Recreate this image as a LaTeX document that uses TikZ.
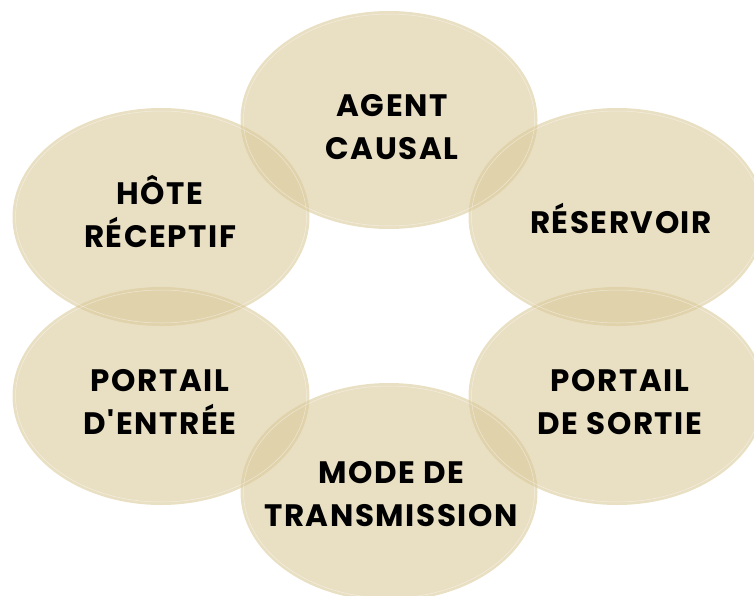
\documentclass[tikz,border=0pt]{standalone}
\usepackage{fontspec}
\newfontfamily\petalfont{Poppins}[LetterSpace=5]
\usetikzlibrary{shapes.geometric}

\definecolor{petalfill}{RGB}{218,202,155}

\tikzset{
    petal/.style={ellipse, fill=petalfill, fill opacity=0.6,
        minimum width=297pt, minimum height=218pt, inner sep=0pt},
    rimline/.style={draw=white, draw opacity=0.45, line width=0.5pt},
    word/.style={font=\petalfont\bfseries\fontsize{31}{43}\selectfont, align=center,
        text=black, anchor=base, inner sep=0pt},
}

\begin{document}
\begin{tikzpicture}[x=1pt, y=-1pt]
    \useasboundingbox (0,0) rectangle (754,596);
    \clip (0,0) rectangle (754,596);

    % the six ellipses, clockwise from the top
    \node[petal] (agent) at (389,120) {};
    \node[petal] (reservoir) at (617,217) {};
    \node[petal] (sortie) at (617,396) {};
    \node[petal] (mode) at (389,492) {};
    \node[petal] (entree) at (161,396) {};
    \node[petal] (hote) at (161,217) {};

    \foreach \n in {agent, reservoir, sortie, mode, entree, hote}
        \draw[rimline] (\n.center) ellipse (145.5 and 106);

    % labels, last baseline
    \node[word] (agent-txt) at (392,160) {AGENT\\CAUSAL};
    \node[word] (reservoir-txt) at (621,233) {RÉSERVOIR};
    \node[word] (sortie-txt) at (620,434) {PORTAIL\\DE SORTIE};
    \node[word] (mode-txt) at (391,526) {MODE DE\\TRANSMISSION};
    \node[word] (entree-txt) at (160,434) {PORTAIL\\D'ENTRÉE};
    \node[word] (hote-txt) at (160,247) {HÔTE\\RÉCEPTIF};
\end{tikzpicture}
\end{document}
